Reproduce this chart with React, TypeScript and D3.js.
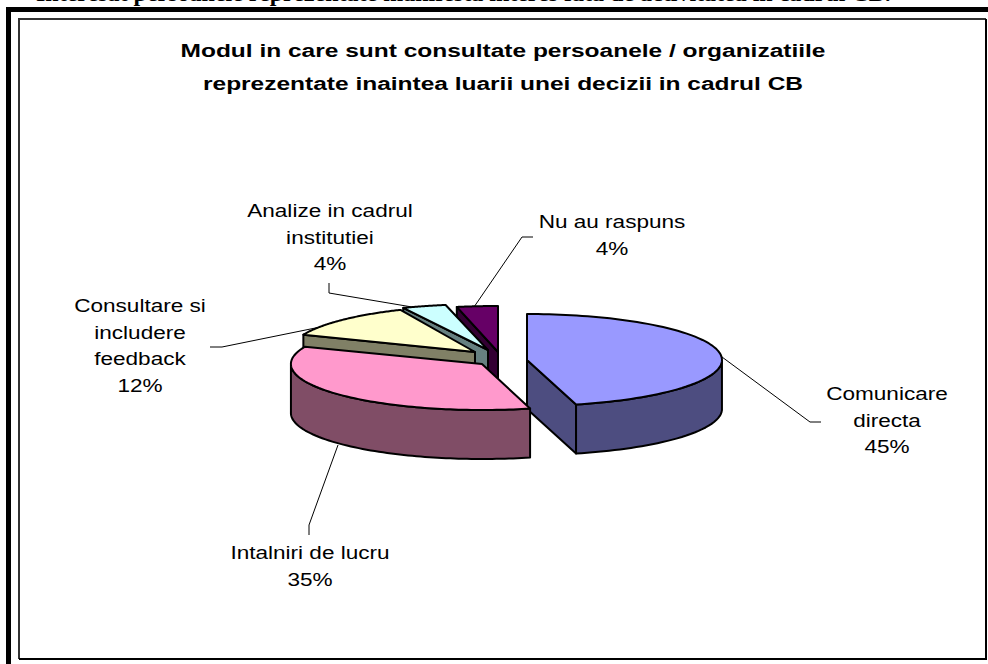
import React from "react";
import * as d3 from "d3";

const categories = ["Comunicare directa", "Intalniri de lucru", "Consultare si includere feedback", "Analize in cadrul institutiei", "Nu au raspuns"];
const values = [45, 35, 12, 4, 4];
const topColors = ["#9999FF", "#FF99CC", "#FFFFCC", "#CCFFFF", "#660066"];
const wallColors = ["#4D4D80", "#804D66", "#808066", "#668080", "#330033"];
const titleLines = ["Modul in care sunt consultate persoanele / organizatiile", "reprezentate inaintea luarii unei decizii in cadrul CB"];
const labelLines = [["Comunicare", "directa"], ["Intalniri de lucru"], ["Consultare si", "includere", "feedback"], ["Analize in cadrul", "institutiei"], ["Nu au raspuns"]];
const clippedHeading = "Interesat persoanele reprezentate manifesta interes fata de activitatea in cadrul CB.";

// layout
const W = 988, H = 664;
const CX = 500, CY = 355, RX = 195, RY = 46, DEPTH = 49, FORESHORTEN = 0.8;
const explodeX = [27, -18, -25, -12, -2];
const explodeY = [5, 9, -3, -5, -3];
const radiusScale = [1, 0.98, 0.95, 1.08, 1.05];
const drawOrder = [4, 3, 2, 0, 1];
const labelAnchors: [number, number][] = [[887, 400], [310, 559], [140, 312], [330, 217], [612, 228]];
const leaders: [number, number][][] = [
  [[722, 357], [810, 422], [821, 422]],
  [[338, 445], [309, 525], [309, 535]],
  [[340, 323], [222, 347], [210, 347]],
  [[418, 308], [329, 293], [329, 283]],
  [[474, 307], [522, 237], [533, 237]],
];
const LINE = 26.7;
const LABEL_STRETCH = 1.22;
const TITLE_STRETCH = 1.29;
const sans = "'Liberation Sans', Arial, sans-serif";

const pie = d3.pie<number>().sort(null).value((d) => d);
const arcs = pie(values);
const line = d3.line<[number, number]>().x((d) => d[0]).y((d) => d[1]);

export default function App() {
  const slices = drawOrder.map((i) => {
    const a = arcs[i];
    const ox = CX + explodeX[i], oy = CY + explodeY[i];
    const rx = RX * radiusScale[i];
    const pt = (t: number): [number, number] => {
      const n = Math.hypot(FORESHORTEN * Math.sin(t), Math.cos(t));
      return [ox + (rx * FORESHORTEN * Math.sin(t)) / n, oy - (RY * Math.cos(t)) / n];
    };
    const down = (p: [number, number]): [number, number] => [p[0], p[1] + DEPTH];
    const samples = d3.range(0, 81).map((k) => a.startAngle + ((a.endAngle - a.startAngle) * k) / 80);
    const rim = samples.map(pt);
    const apex: [number, number] = [ox, oy];
    const top = line([apex, ...rim])! + "Z";
    const walls: string[] = [];
    if (Math.cos(a.startAngle - Math.PI / 2) < -1e-6) {
      const p = pt(a.startAngle);
      walls.push(line([apex, p, down(p), down(apex)])! + "Z");
    }
    if (Math.cos(a.endAngle + Math.PI / 2) < -1e-6) {
      const p = pt(a.endAngle);
      walls.push(line([apex, p, down(p), down(apex)])! + "Z");
    }
    const front = samples.filter((t) => Math.cos(t) <= 0.001).map(pt);
    if (front.length > 1) {
      walls.push(line([...front, ...front.slice().reverse().map(down)])! + "Z");
    }
    return { i, top, walls };
  });

  return (
    <svg width={W} height={H} viewBox={`0 0 ${W} ${H}`} style={{ position: "absolute", left: 0, top: 0, display: "block", background: "#fff" }}>
      <text x={36} y={1} fontFamily="'Liberation Serif', serif" fontWeight="bold" fontSize={24} fill="#000">{clippedHeading}</text>
      <path d={`M8.5 ${H}V9.5H${W}`} fill="none" stroke="#000" strokeWidth={5} />
      <path d={`M19 659V19H986`} fill="none" stroke="#333" strokeWidth={2} />
      <path d={`M19 659H986V19`} fill="none" stroke="#000" strokeWidth={2} />

      {titleLines.map((t, k) => (
        <text key={t} transform={`translate(503,${57 + k * 33}) scale(${TITLE_STRETCH},1)`} textAnchor="middle" fontFamily={sans} fontWeight="bold" fontSize={19} fill="#000">{t}</text>
      ))}

      {leaders.map((pts, k) => (
        <path key={k} d={line(pts)!} fill="none" stroke="#000" strokeWidth={1} />
      ))}

      {slices.map((s) => (
        <g key={s.i} stroke="#000" strokeWidth={2} strokeLinejoin="round">
          {s.walls.map((d, k) => <path key={k} d={d} fill={wallColors[s.i]} />)}
          <path d={s.top} fill={topColors[s.i]} />
        </g>
      ))}

      {categories.map((c, i) => {
        const lines = [...labelLines[i], `${values[i]}%`];
        return (
          <text key={c} transform={`translate(${labelAnchors[i][0]},${labelAnchors[i][1]}) scale(${LABEL_STRETCH},1)`} textAnchor="middle" fontFamily={sans} fontSize={18.5} fill="#000">
            {lines.map((l, k) => (
              <tspan key={k} x={0} y={k * LINE}>{l}</tspan>
            ))}
          </text>
        );
      })}
    </svg>
  );
}
